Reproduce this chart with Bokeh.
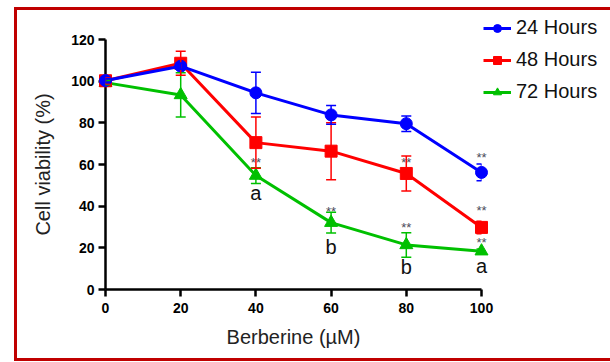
from bokeh.plotting import figure
from bokeh.models import (ColumnDataSource, Whisker, TeeHead, Legend, LegendItem,
                          FixedTicker, Range1d)
from bokeh.layouts import column
from bokeh.core.properties import value
from bokeh.embed import file_html
from bokeh.resources import INLINE

# ---------------- data ----------------
dose = [0, 20, 40, 60, 80, 100]
h24 = [100.3, 107.2, 94.4, 83.8, 79.6, 56.2]
h24_err = [1.0, 1.5, 9.9, 4.5, 3.7, 4.0]
h48 = [100.2, 108.6, 70.5, 66.4, 55.7, 29.8]
h48_err = [1.5, 5.8, 12.3, 13.7, 8.4, 3.0]
h72 = [99.3, 93.4, 54.7, 32.1, 21.4, 18.4]
h72_err = [1.0, 10.6, 3.8, 5.0, 5.9, 1.0]

series_names = ["24 Hours", "48 Hours", "72 Hours"]
x_ticks = [0, 20, 40, 60, 80, 100]
y_ticks = [0, 20, 40, 60, 80, 100, 120]

# significance marks ("**") and letters
star_x = [100, 80, 100, 40, 60, 80, 100]
star_y = [63.5, 61.0, 37.8, 61.0, 37.4, 29.9, 22.7]
letter_x = [40, 60, 80, 100]
letter_y = [46.2, 20.3, 10.7, 11.5]
letter_text = ["a", "b", "b", "a"]

FONT = "Liberation Sans"

p = figure(frame_width=376, frame_height=250,
           x_range=Range1d(0, 100), y_range=Range1d(0, 120),
           output_backend="svg", toolbar_location=None,
           min_border_left=88, min_border_right=125,
           min_border_top=29, min_border_bottom=69)
p.outline_line_color = None
p.grid.grid_line_color = None
p.background_fill_color = "white"
p.border_fill_color = "white"

for ax in (p.xaxis[0], p.yaxis[0]):
    ax.axis_line_width = 2.5
    ax.axis_line_color = "black"
    ax.major_tick_line_width = 2.5
    ax.major_tick_line_color = "black"
    ax.major_tick_out = 7
    ax.major_tick_in = 0
    ax.minor_tick_line_color = None
    ax.major_label_text_font = FONT
    ax.major_label_text_font_style = "bold"
    ax.major_label_text_font_size = "14px"
    ax.major_label_text_color = "black"
    ax.axis_label_text_font = FONT
    ax.axis_label_text_font_style = "normal"
    ax.axis_label_text_font_size = "20px"
    ax.axis_label_text_color = "#222222"

p.xaxis.ticker = FixedTicker(ticks=x_ticks)
p.yaxis.ticker = FixedTicker(ticks=y_ticks)
p.xaxis.axis_label = "Berberine (µM)"
p.yaxis.axis_label = "Cell viability (%)"
p.xaxis.major_label_standoff = 6
p.yaxis.major_label_standoff = 4
p.xaxis.axis_label_standoff = 10
p.yaxis.axis_label_standoff = 14

colors = ["#0000ff", "#ff0000", "#00c000"]
markers = ["circle", "square", "triangle"]
sizes = [12, 12, 13]
vals = [h24, h48, h72]
errs = [h24_err, h48_err, h72_err]

renderers = {}
for i in [2, 1, 0]:
    y = vals[i]
    e = errs[i]
    src = ColumnDataSource(dict(x=dose, y=y,
                                lo=[a - b for a, b in zip(y, e)],
                                hi=[a + b for a, b in zip(y, e)]))
    w = Whisker(source=src, base="x", lower="lo", upper="hi",
                line_color=colors[i], line_width=1.5, level="overlay",
                upper_head=TeeHead(size=10, line_color=colors[i], line_width=1.5),
                lower_head=TeeHead(size=10, line_color=colors[i], line_width=1.5))
    p.add_layout(w)
    lr = p.line("x", "y", source=src, line_color=colors[i], line_width=3, level="overlay")
    sr = p.scatter("x", "y", source=src, marker=markers[i], size=sizes[i],
                   fill_color=colors[i], line_color=colors[i], level="overlay")
    renderers[i] = [lr, sr]

items = [LegendItem(label=series_names[i], renderers=renderers[i]) for i in range(3)]

p.text(x=star_x, y=star_y, text=["**"] * len(star_x), text_font=value(FONT),
       text_font_size="13px", text_color="#4a4a5a", text_align="center",
       text_baseline="middle", level="overlay")
p.text(x=letter_x, y=letter_y, text=letter_text, text_font=value(FONT),
       text_font_size="20px", text_color="#111111", text_align="center",
       text_baseline="middle", level="overlay")

legend = Legend(items=items, location=(2, 186), orientation="vertical",
                background_fill_alpha=0, border_line_color=None,
                padding=0, margin=0, spacing=9, glyph_width=28, glyph_height=20,
                label_height=20, label_standoff=5,
                label_text_font=FONT, label_text_font_size="20px",
                label_text_color="#111111")
p.add_layout(legend, "right")

layout = column(p, styles={"border": "3px solid #c00000",
                           "margin-left": "14px", "margin-top": "7px"})

open("out.html", "w").write(file_html(layout, INLINE))
